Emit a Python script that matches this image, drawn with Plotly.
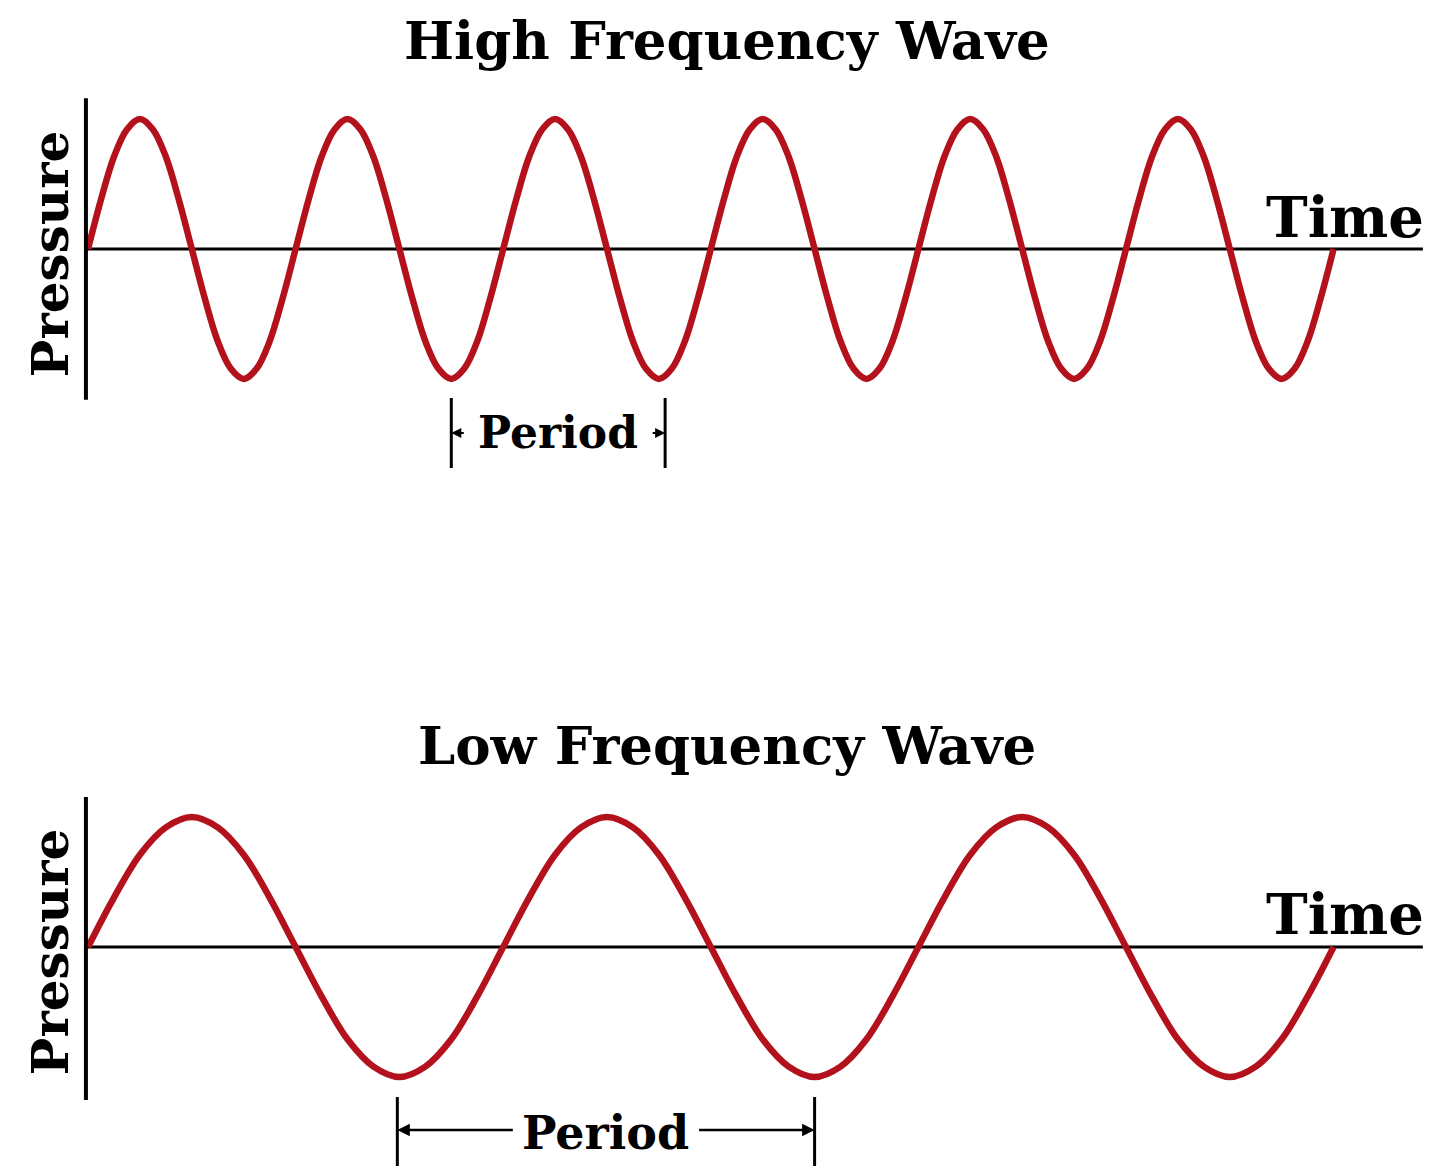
import plotly.graph_objects as go

# time axis in units of the high-frequency period
cycle = [0, 0.38, 0.71, 0.92, 1, 0.92, 0.71, 0.38, 0, -0.38, -0.71, -0.92, -1, -0.92, -0.71, -0.38]

high_t = [i / 16 for i in range(97)]
high_p = cycle * 6 + [0]

low_t = [i / 8 for i in range(49)]
low_p = cycle * 3 + [0]

titles = ["High Frequency Wave", "Low Frequency Wave"]
period_high = [1.75, 2.78]
period_low = [1.49, 3.5]

RED = "#b3121c"
FONT = "DejaVu Serif"

fig = go.Figure()
fig.add_trace(
    go.Scatter(
        x=high_t, y=high_p, mode="lines", yaxis="y",
        line=dict(color=RED, width=6.5, shape="spline", smoothing=1.0),
        hoverinfo="skip",
    )
)
fig.add_trace(
    go.Scatter(
        x=low_t, y=low_p, mode="lines", yaxis="y2",
        line=dict(color=RED, width=6.5, shape="spline", smoothing=1.0),
        hoverinfo="skip",
    )
)

for yref, (ytop, ybot), title, ty, tanchor in [
    ("y", (1.16, -1.16), titles[0], 1.852, "top"),
    ("y2", (1.154, -1.177), titles[1], 1.55, "middle"),
]:
    # axes
    fig.add_shape(type="line", xref="x", yref=yref, x0=-0.01, x1=-0.01,
                  y0=ybot, y1=ytop, line=dict(color="black", width=4))
    fig.add_shape(type="line", xref="x", yref=yref, x0=-0.01, x1=6.43,
                  y0=0, y1=0, line=dict(color="black", width=3), layer="below")
    fig.add_annotation(x=3.08, y=ty, xref="x", yref=yref, text="<b>%s</b>" % title,
                       showarrow=False, borderpad=0, yanchor=tanchor,
                       font=dict(family=FONT, size=53, color="black"))
    fig.add_annotation(x=-0.183, y=-0.04, xref="x", yref=yref, text="<b>Pressure</b>",
                       textangle=-90, showarrow=False,
                       font=dict(family=FONT, size=50, color="black"))
    fig.add_annotation(x=6.055, y=0.25, xref="x", yref=yref, text="<b>Time</b>",
                       showarrow=False, font=dict(family=FONT, size=56, color="black"))

# period markers, high frequency
for xv in period_high:
    fig.add_shape(type="line", xref="x", yref="y", x0=xv, x1=xv, y0=-1.146, y1=-1.685,
                  line=dict(color="black", width=3))
fig.add_annotation(x=sum(period_high) / 2, y=-1.415, xref="x", yref="y",
                   text="<b>Period</b>", showarrow=False,
                   font=dict(family=FONT, size=44, color="black"))
for xv, ax in [(period_high[0], 14), (period_high[1], -14)]:
    fig.add_annotation(x=xv, y=-1.415, xref="x", yref="y", text="", ax=ax, ay=0,
                       showarrow=True, arrowhead=2, arrowsize=1, arrowwidth=2,
                       arrowcolor="black")

# period markers, low frequency
for xv in period_low:
    fig.add_shape(type="line", xref="x", yref="y2", x0=xv, x1=xv, y0=-1.154, y1=-1.75,
                  line=dict(color="black", width=3))
fig.add_annotation(x=sum(period_low) / 2, y=-1.43, xref="x", yref="y2",
                   text="<b>Period</b>", showarrow=False,
                   font=dict(family=FONT, size=46, color="black"))
for xv, ax in [(period_low[0], 117), (period_low[1], -117)]:
    fig.add_annotation(x=xv, y=-1.408, xref="x", yref="y2", text="", ax=ax, ay=0,
                       showarrow=True, arrowhead=2, arrowsize=1, arrowwidth=2.5,
                       arrowcolor="black")

# the page body adds an 8px offset, so the ranges are shifted to compensate
fig.update_layout(
    width=1440,
    height=1166,
    margin=dict(l=0, r=0, t=0, b=0),
    paper_bgcolor="white",
    plot_bgcolor="white",
    showlegend=False,
    xaxis=dict(range=[-0.3854, 6.5511], visible=False, domain=[0, 1]),
    yaxis=dict(range=[-2.631, 1.854], visible=False, domain=[0.5, 1]),
    yaxis2=dict(range=[-1.746, 2.738], visible=False, domain=[0, 0.5], anchor="x"),
)

fig.write_html("out.html")
